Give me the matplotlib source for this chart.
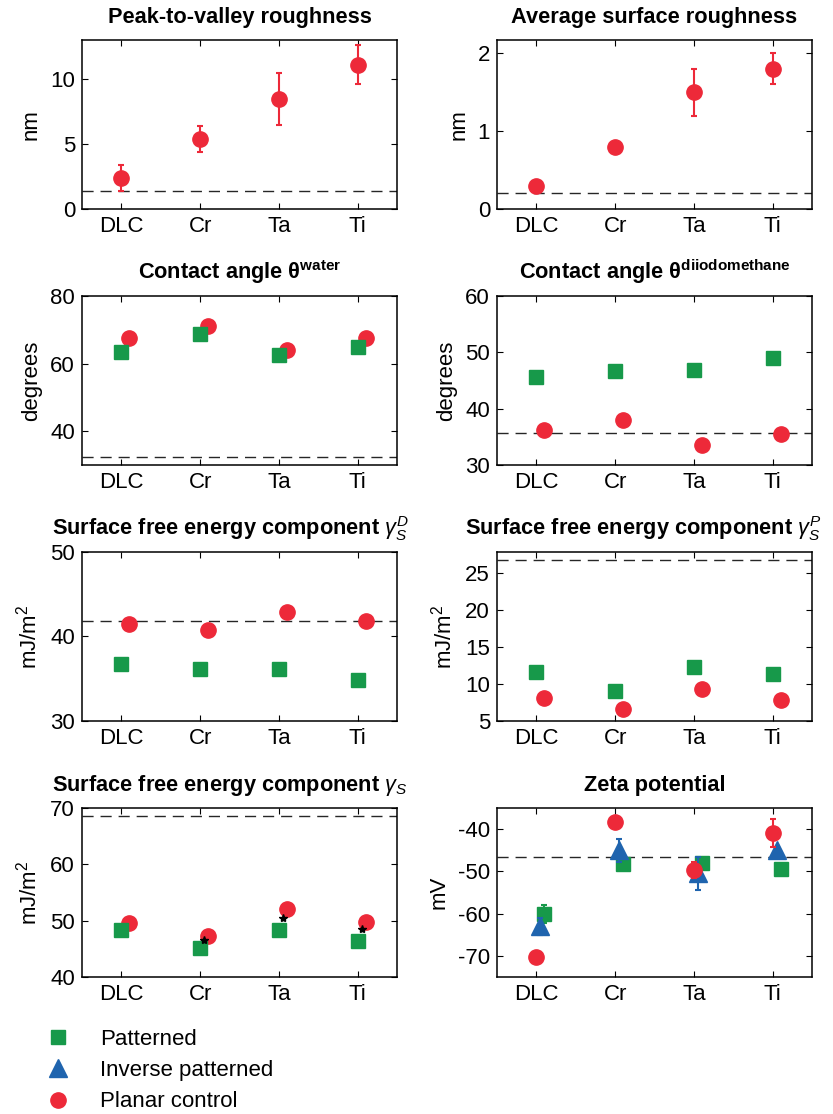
import numpy as np
import matplotlib
matplotlib.use('Agg')
import matplotlib.pyplot as plt
from matplotlib.lines import Line2D

plt.rcParams['font.family'] = ['Liberation Sans', 'DejaVu Sans']
plt.rcParams['mathtext.fontset'] = 'custom'
plt.rcParams['mathtext.rm'] = 'Liberation Sans'
plt.rcParams['mathtext.bf'] = 'Liberation Sans:bold'
plt.rcParams['mathtext.it'] = 'Liberation Sans:italic'
plt.rcParams['mathtext.bfit'] = 'Liberation Sans:italic:bold'
plt.rcParams['axes.unicode_minus'] = False

materials = ['DLC', 'Cr', 'Ta', 'Ti']

# peak-to-valley roughness (nm)
ptv_planar = [2.4, 5.4, 8.5, 11.1]
ptv_planar_err = [1.0, 1.0, 2.0, 1.5]
ptv_ref = 1.4

# average surface roughness (nm)
ra_planar = [0.3, 0.8, 1.5, 1.8]
ra_planar_err = [0.0, 0.0, 0.3, 0.2]
ra_ref = 0.2

# contact angle water (degrees)
water_pat = [63.5, 68.9, 62.6, 65.0]
water_planar = [67.5, 71.2, 64.0, 67.6]
water_ref = 32.5

# contact angle diiodomethane (degrees)
diio_pat = [45.6, 46.7, 46.8, 49.0]
diio_pat_err = [0.8, 0.4, 0.6, 0.6]
diio_planar = [36.2, 37.9, 33.5, 35.5]
diio_planar_err = [0.3, 0.8, 0.3, 0.3]
diio_ref = 35.7

# dispersive component (mJ/m2)
gd_pat = [36.7, 36.1, 36.1, 34.9]
gd_planar = [41.5, 40.8, 42.9, 41.8]
gd_ref = 41.8

# polar component (mJ/m2)
gp_pat = [11.6, 9.1, 12.3, 11.4]
gp_pat_err = [0.3, 0.6, 0.3, 0.3]
gp_planar = [8.05, 6.6, 9.3, 7.9]
gp_ref = 26.8

# total surface free energy (mJ/m2)
gs_pat = [48.3, 45.2, 48.4, 46.4]
gs_planar = [49.6, 47.3, 52.1, 49.7]
gs_signif = [np.nan, 46.5, 50.4, 48.5]
gs_ref = 68.6

# zeta potential (mV)
zeta_pat = [-60.1, -48.3, -47.9, -49.5]
zeta_pat_err = [2.2, 0.5, 0.5, 0.5]
zeta_inv = [-63.0, -45.0, -50.5, -45.0]
zeta_inv_err = [2.0, 2.7, 3.8, 0.5]
zeta_planar = [-70.3, -38.3, -49.7, -40.9]
zeta_planar_err = [0.0, 0.0, 1.9, 3.3]
zeta_ref = -46.6

RED = '#ED2939'
GREEN = '#17994A'
BLUE = '#1F64AE'
FS = 16

x = np.arange(1, 5)

fig = plt.figure(figsize=(8.33, 11.14), dpi=100)
W, H = 315 / 833, 169 / 1114
lefts = [82 / 833, 497 / 833]
bottoms = [1 - 209 / 1114, 1 - 465 / 1114, 1 - 721 / 1114, 1 - 977 / 1114]
axes = [[fig.add_axes([l, b, W, H]) for l in lefts] for b in bottoms]


def setup(ax, title, ylabel, ylim, yticks, ref, tx=0.5):
    ax.set_xlim(0.5, 4.5)
    ax.set_ylim(*ylim)
    ax.set_xticks(x)
    ax.set_xticklabels(materials)
    ax.set_yticks(yticks)
    ax.tick_params(direction='in', length=4, width=0.8, top=True, right=True,
                   labelsize=FS, pad=5)
    for s in ax.spines.values():
        s.set_linewidth(1.1)
    ax.set_title(title, fontsize=FS - 0.3, fontweight='bold', pad=12, x=tx)
    ax.set_ylabel(ylabel, fontsize=FS, labelpad=6)
    ax.axhline(ref, color='0.15', lw=1.0, dashes=(8, 5), zorder=1)


def pts(ax, xs, ys, err, marker, color, ms, z):
    ax.errorbar(xs, ys, yerr=err, fmt=marker, color=color, ms=ms, mec=color,
                ecolor=color, elinewidth=1.5, capsize=2, capthick=1.5, zorder=z)


# row 1
ax = axes[0][0]
setup(ax, 'Peak-to-valley roughness', 'nm', (0, 13), [0, 5, 10], ptv_ref)
pts(ax, x, ptv_planar, ptv_planar_err, 'o', RED, 11, 3)

ax = axes[0][1]
setup(ax, 'Average surface roughness', 'nm', (0, 2.17), [0, 1, 2], ra_ref)
pts(ax, x, ra_planar, ra_planar_err, 'o', RED, 11, 3)

# row 2
ax = axes[1][0]
setup(ax, r'Contact angle $\mathbf{\theta^{water}}$', 'degrees', (30, 80), [40, 60, 80], water_ref)
pts(ax, x + 0.1, water_planar, None, 'o', RED, 11, 3)
pts(ax, x, water_pat, None, 's', GREEN, 9.5, 4)

ax = axes[1][1]
setup(ax, r'Contact angle $\mathbf{\theta^{diiodomethane}}$', 'degrees', (30, 60), [30, 40, 50, 60], diio_ref)
pts(ax, x + 0.1, diio_planar, diio_planar_err, 'o', RED, 11, 3)
pts(ax, x, diio_pat, diio_pat_err, 's', GREEN, 9.5, 4)

# row 3
ax = axes[2][0]
setup(ax, r'Surface free energy component $\boldsymbol{\gamma_S^D}$', 'mJ/m$^2$', (30, 50), [30, 40, 50], gd_ref, tx=0.47)
pts(ax, x + 0.1, gd_planar, None, 'o', RED, 11, 3)
pts(ax, x, gd_pat, None, 's', GREEN, 9.5, 4)

ax = axes[2][1]
setup(ax, r'Surface free energy component $\boldsymbol{\gamma_S^P}$', 'mJ/m$^2$', (5, 27.9), [5, 10, 15, 20, 25], gp_ref, tx=0.465)
pts(ax, x + 0.1, gp_planar, None, 'o', RED, 11, 3)
pts(ax, x, gp_pat, gp_pat_err, 's', GREEN, 9.5, 4)

# row 4
ax = axes[3][0]
setup(ax, r'Surface free energy component $\boldsymbol{\gamma_S}$', 'mJ/m$^2$', (40, 70), [40, 50, 60, 70], gs_ref, tx=0.47)
pts(ax, x + 0.1, gs_planar, None, 'o', RED, 11, 3)
pts(ax, x, gs_pat, None, 's', GREEN, 9.5, 4)
ax.plot(x + 0.05, gs_signif, '*', color='black', ms=6, zorder=5)

ax = axes[3][1]
setup(ax, 'Zeta potential', 'mV', (-75, -35), [-70, -60, -50, -40], zeta_ref)
pts(ax, x + 0.1, zeta_pat, zeta_pat_err, 's', GREEN, 9.5, 2)
pts(ax, x + 0.05, zeta_inv, zeta_inv_err, '^', BLUE, 13, 3)
pts(ax, x, zeta_planar, zeta_planar_err, 'o', RED, 11, 4)

handles = [Line2D([], [], ls='none', marker='s', color=GREEN, ms=9.5),
           Line2D([], [], ls='none', marker='^', color=BLUE, ms=13),
           Line2D([], [], ls='none', marker='o', color=RED, ms=11)]
fig.legend(handles, ['Patterned', 'Inverse patterned', 'Planar control'],
           loc='upper left', bbox_to_anchor=(47 / 833, 1 - 1029 / 1114),
           frameon=False, fontsize=FS, handlelength=1.0, handletextpad=1.4,
           labelspacing=0.46, borderpad=0, borderaxespad=0)

fig.savefig('out.png', dpi=100)
